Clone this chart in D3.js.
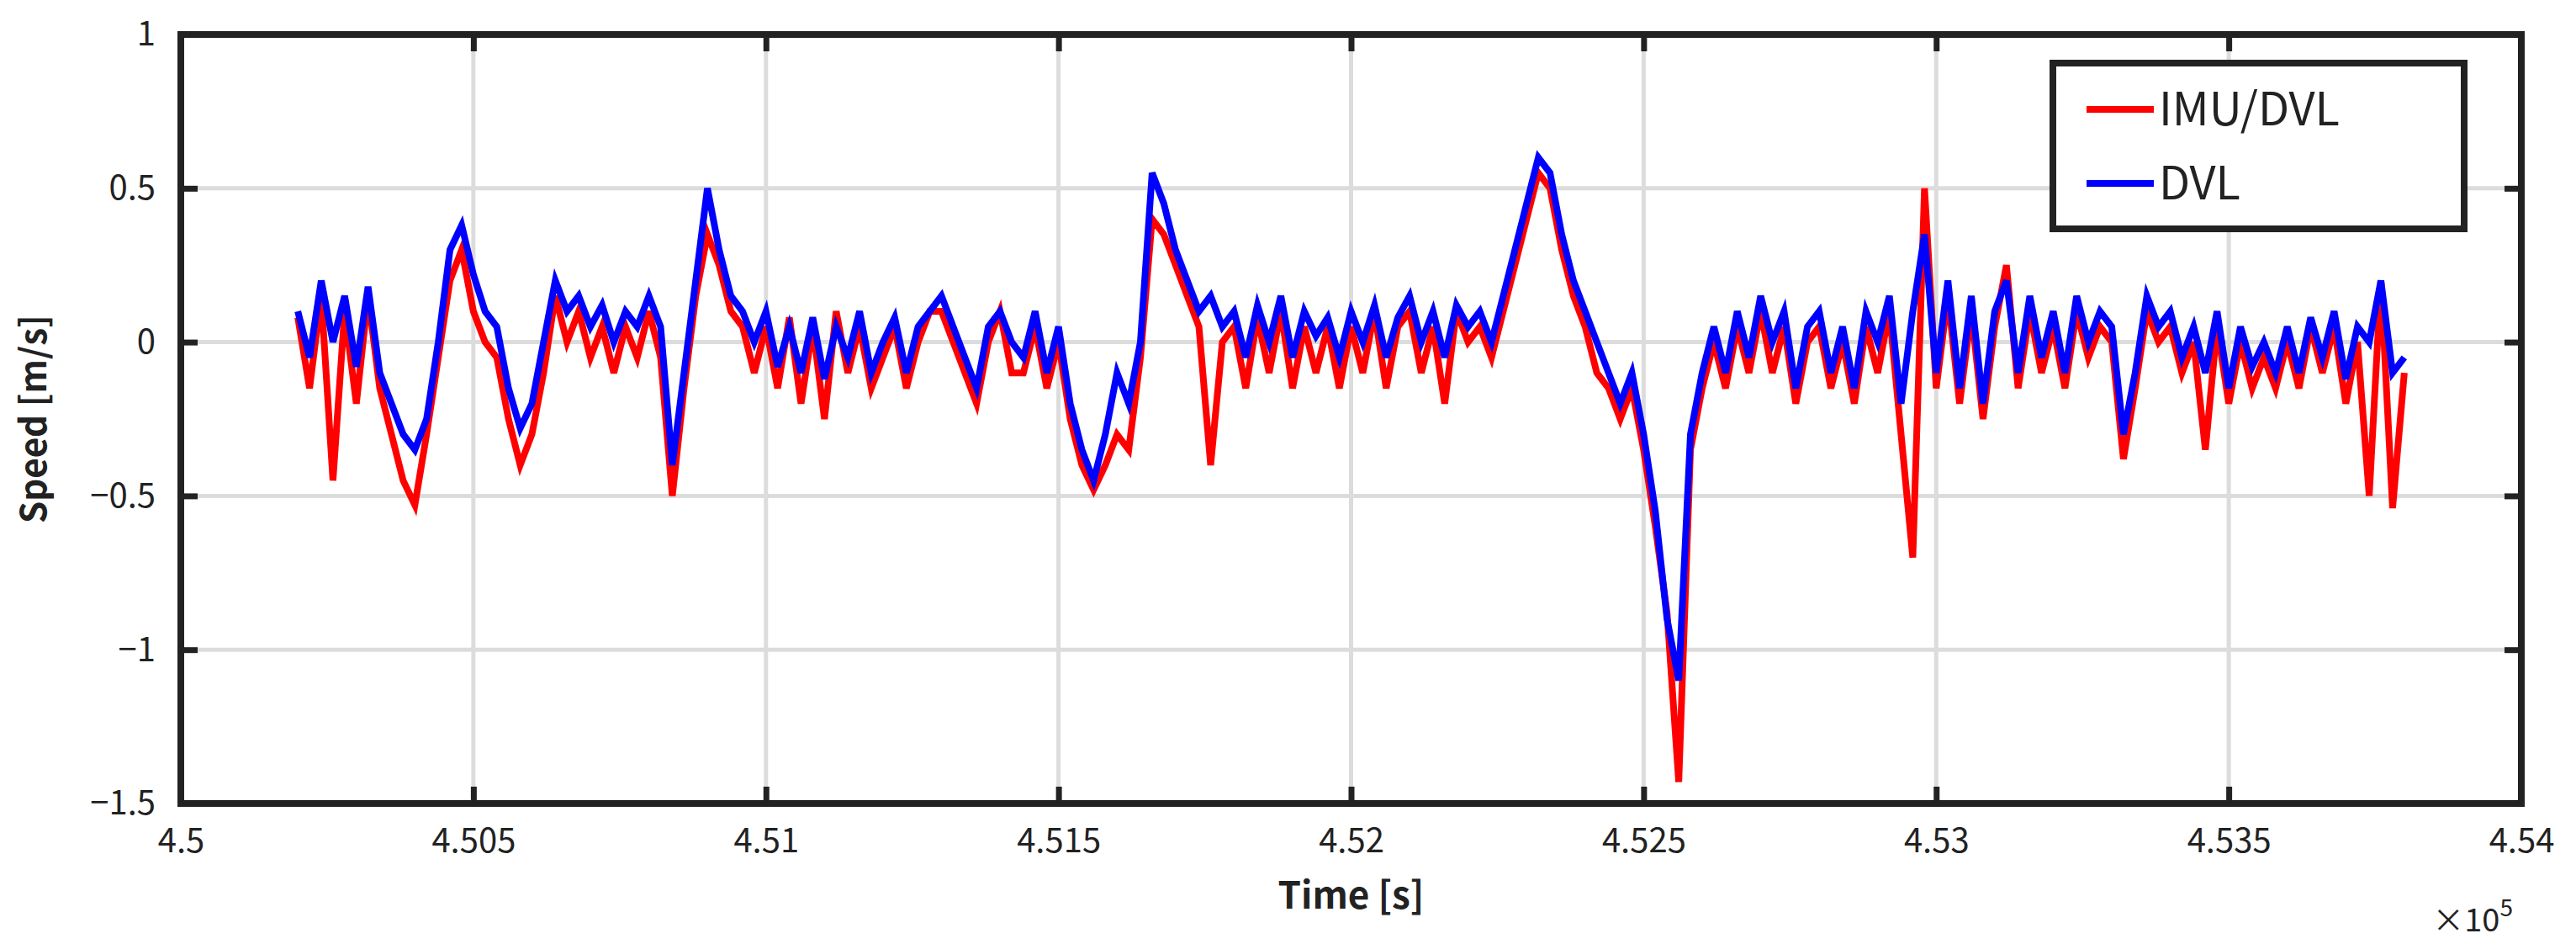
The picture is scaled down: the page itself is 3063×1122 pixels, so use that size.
<!DOCTYPE html>
<html>
<head>
<meta charset="utf-8">
<script src="https://cdn.jsdelivr.net/npm/d3@7"></script>
<style>
body { margin: 0; background: #fff; }
text { font-family: "Noto Sans CJK JP", "DejaVu Sans", sans-serif; fill: #222; }
</style>
</head>
<body>
<div id="chart"></div>
<script>
// Time samples every 20 s, from 4.502e5 to 4.538e5
var tStart = 450200, tStep = 20;

var dvl = [
  0.1,-0.05,0.2,0.0,0.15,-0.08,0.18,-0.1,-0.2,-0.3,
  -0.35,-0.25,0.0,0.3,0.38,0.22,0.1,0.05,-0.15,-0.28,
  -0.2,0.0,0.2,0.1,0.15,0.05,0.12,0.0,0.1,0.05,
  0.15,0.05,-0.4,-0.1,0.2,0.5,0.3,0.15,0.1,0.0,
  0.1,-0.08,0.05,-0.1,0.08,-0.12,0.05,-0.05,0.1,-0.1,
  0.0,0.08,-0.1,0.05,0.1,0.15,0.05,-0.05,-0.15,0.05,
  0.1,0.0,-0.05,0.1,-0.1,0.05,-0.2,-0.35,-0.45,-0.3,
  -0.1,-0.2,0.0,0.55,0.45,0.3,0.2,0.1,0.15,0.05,
  0.1,-0.05,0.12,0.0,0.15,-0.05,0.1,0.02,0.08,-0.05,
  0.1,0.0,0.12,-0.05,0.08,0.15,0.0,0.1,-0.05,0.12,
  0.05,0.1,0.0,0.15,0.3,0.45,0.6,0.55,0.35,0.2,
  0.1,0.0,-0.1,-0.2,-0.1,-0.3,-0.55,-0.9,-1.1,-0.3,
  -0.1,0.05,-0.1,0.1,-0.05,0.15,0.0,0.1,-0.15,0.05,
  0.1,-0.1,0.05,-0.15,0.1,0.0,0.15,-0.2,0.1,0.35,
  -0.1,0.2,-0.15,0.15,-0.2,0.1,0.2,-0.1,0.15,-0.05,
  0.1,-0.1,0.15,0.0,0.1,0.05,-0.3,-0.1,0.15,0.05,
  0.1,-0.05,0.05,-0.1,0.1,-0.15,0.05,-0.08,0.0,-0.1,
  0.05,-0.1,0.08,-0.05,0.1,-0.12,0.05,0.0,0.2,-0.1,
  -0.05
];

var imuDvl = [
  0.08,-0.15,0.15,-0.45,0.1,-0.2,0.15,-0.15,-0.3,-0.45,
  -0.53,-0.3,-0.05,0.2,0.3,0.1,0.0,-0.05,-0.25,-0.4,
  -0.3,-0.1,0.15,0.0,0.1,-0.05,0.05,-0.1,0.05,-0.05,
  0.1,-0.05,-0.5,-0.15,0.15,0.35,0.25,0.1,0.05,-0.1,
  0.05,-0.15,0.08,-0.2,0.05,-0.25,0.1,-0.1,0.05,-0.15,
  -0.05,0.05,-0.15,0.0,0.1,0.1,0.0,-0.1,-0.2,0.0,
  0.1,-0.1,-0.1,0.05,-0.15,0.0,-0.25,-0.4,-0.48,-0.4,
  -0.3,-0.35,-0.05,0.4,0.35,0.25,0.15,0.05,-0.4,0.0,
  0.05,-0.15,0.08,-0.1,0.1,-0.15,0.05,-0.1,0.05,-0.15,
  0.05,-0.1,0.1,-0.15,0.05,0.1,-0.1,0.05,-0.2,0.1,
  0.0,0.05,-0.05,0.1,0.25,0.4,0.55,0.5,0.3,0.15,
  0.05,-0.1,-0.15,-0.25,-0.15,-0.35,-0.6,-0.88,-1.43,-0.35,
  -0.15,0.0,-0.15,0.05,-0.1,0.1,-0.1,0.05,-0.2,0.0,
  0.05,-0.15,0.0,-0.2,0.05,-0.1,0.1,-0.3,-0.7,0.5,
  -0.15,0.15,-0.2,0.1,-0.25,0.05,0.25,-0.15,0.1,-0.1,
  0.05,-0.15,0.1,-0.05,0.05,0.0,-0.38,-0.15,0.1,0.0,
  0.05,-0.1,0.0,-0.35,0.05,-0.2,0.0,-0.15,-0.05,-0.15,
  0.0,-0.15,0.05,-0.1,0.05,-0.2,0.0,-0.5,0.2,-0.54,
  -0.1
];

var xTicks = [4.5, 4.505, 4.51, 4.515, 4.52, 4.525, 4.53, 4.535, 4.54];
var yTicks = [1, 0.5, 0, -0.5, -1, -1.5];
var seriesNames = ["IMU/DVL", "DVL"];
var seriesColors = ["#ff0000", "#0000ff"];

var svgWidth = 3063, svgHeight = 1122;
var margin = { top: 41, right: 65, bottom: 167, left: 215 };
var width = svgWidth - margin.left - margin.right;
var height = svgHeight - margin.top - margin.bottom;

var svg = d3.select("#chart").append("svg")
    .attr("width", svgWidth)
    .attr("height", svgHeight);

var g = svg.append("g")
    .attr("transform", `translate(${margin.left}, ${margin.top})`);

var x = d3.scaleLinear().domain([4.5, 4.54]).range([0, width]);
var y = d3.scaleLinear().domain([-1.5, 1]).range([height, 0]);

// grid
g.selectAll(".vgrid").data(xTicks).enter().append("line")
    .attr("x1", d => x(d)).attr("x2", d => x(d))
    .attr("y1", 0).attr("y2", height)
    .attr("stroke", "#dcdcdc").attr("stroke-width", 5);
g.selectAll(".hgrid").data(yTicks).enter().append("line")
    .attr("x1", 0).attr("x2", width)
    .attr("y1", d => y(d)).attr("y2", d => y(d))
    .attr("stroke", "#dcdcdc").attr("stroke-width", 5);

// series
var line = d3.line()
    .x((d, i) => x((tStart + i * tStep) / 1e5))
    .y(d => y(d));

[imuDvl, dvl].forEach(function (s, k) {
    g.append("path")
      .datum(s)
      .attr("fill", "none")
      .attr("stroke", seriesColors[k])
      .attr("stroke-width", 8)
      .attr("stroke-linejoin", "miter")
      .attr("d", line);
});

// axes (ticks point inward)
var bottomAxis = d3.axisBottom(x).tickValues(xTicks).tickSize(-20).tickPadding(30)
    .tickFormat(d => d3.format("")(+d.toFixed(3)));
var topAxis = d3.axisTop(x).tickValues(xTicks).tickSize(-20).tickFormat("");
var leftAxis = d3.axisLeft(y).tickValues(yTicks).tickSize(-20).tickPadding(30)
    .tickFormat(d => d < 0 ? "\u2212" + Math.abs(d) : d);
var rightAxis = d3.axisRight(y).tickValues(yTicks).tickSize(-20).tickFormat("");

[[bottomAxis, `translate(0,${height})`], [topAxis, "translate(0,0)"],
 [leftAxis, "translate(0,0)"], [rightAxis, `translate(${width},0)`]].forEach(function (a) {
    var ax = g.append("g").attr("transform", a[1]).call(a[0]);
    ax.select(".domain").remove();
    ax.selectAll("line").attr("stroke", "#222").attr("stroke-width", 7);
    ax.selectAll("text").attr("font-size", 40).style("font-family", "'Noto Sans CJK JP'").attr("fill", "#222");
});

g.append("rect")
    .attr("width", width).attr("height", height)
    .attr("fill", "none").attr("stroke", "#222").attr("stroke-width", 8);

// labels
g.append("text")
    .attr("x", width / 2).attr("y", height + 125)
    .attr("text-anchor", "middle")
    .attr("font-size", 44).attr("font-weight", "bold")
    .text("Time [s]");

g.append("text")
    .attr("transform", "rotate(-90)")
    .attr("x", -height / 2).attr("y", -160)
    .attr("text-anchor", "middle")
    .attr("font-size", 42).attr("font-weight", "bold")
    .text("Speed [m/s]");

var ex = g.append("text")
    .attr("x", width - 10).attr("y", height + 152)
    .attr("text-anchor", "end")
    .attr("font-size", 38);
ex.append("tspan").text("\u00d710");
ex.append("tspan").attr("dy", -18).attr("font-size", 28).text("5");

// legend
var lg = svg.append("g").attr("transform", "translate(2441, 75)");
lg.append("rect").attr("width", 489).attr("height", 197)
    .attr("fill", "#fff").attr("stroke", "#222").attr("stroke-width", 8);
seriesNames.forEach(function (name, i) {
    var yy = 55 + i * 88;
    lg.append("line").attr("x1", 40).attr("x2", 120).attr("y1", yy).attr("y2", yy)
      .attr("stroke", seriesColors[i]).attr("stroke-width", 8);
    lg.append("text").attr("x", 126).attr("y", yy + 19)
      .attr("font-size", 54).text(name);
});
</script>
</body>
</html>
